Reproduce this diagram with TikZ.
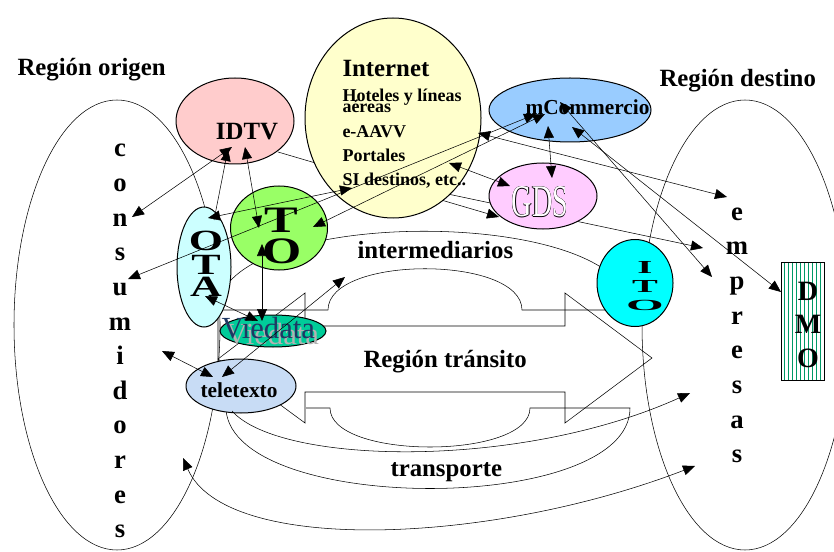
\documentclass[tikz,border=0pt]{standalone}
\usepackage{fontspec}
\setmainfont{Liberation Serif}
\usepackage{graphicx}
\usetikzlibrary{arrows.meta,shapes.geometric,patterns,calc}
\definecolor{idtvpink}{RGB}{255,204,204}
\definecolor{netyellow}{RGB}{255,255,204}
\definecolor{mcomblue}{RGB}{153,204,255}
\definecolor{gdspink}{RGB}{255,204,255}
\definecolor{togreen}{RGB}{153,255,102}
\definecolor{otacyan}{RGB}{204,255,255}
\definecolor{itocyan}{RGB}{0,255,255}
\definecolor{viedgreen}{RGB}{0,204,153}
\definecolor{viednavy}{RGB}{31,56,100}
\definecolor{teleblue}{RGB}{200,220,245}
\definecolor{dmogreen}{RGB}{0,153,102}
\pgfdeclarelayer{back}
\pgfsetlayers{back,main}
\newcommand{\hollow}[1]{{\color{black}\rlap{\kern-0.5pt#1}\rlap{\kern0.5pt#1}\rlap{\raisebox{0.5pt}{#1}}\rlap{\raisebox{-0.5pt}{#1}}}{\color{white}#1}}
\newcommand{\shadowed}[1]{\rlap{\kern3pt\raisebox{-5pt}{\color{black!30}#1}}{\color{viednavy}#1}}
\tikzset{
	blob/.style={ellipse,draw,inner sep=0pt,outer sep=0pt},
	region/.style={font=\bfseries\fontsize{18.6}{22}\selectfont,anchor=base west,inner sep=0pt},
	netline/.style={font=\bfseries\fontsize{13.5}{15}\selectfont,anchor=base west,inner sep=0pt},
	vlet/.style={font=\bfseries\fontsize{20}{24}\selectfont,anchor=base,inner sep=0pt},
	biglet/.style={inner sep=0pt},
	-tri/.style={-{Triangle[length=9pt,width=7.5pt]}},
	tritri/.style={{Triangle[length=9pt,width=7.5pt]}-{Triangle[length=9pt,width=7.5pt]}}
}

\begin{document}
\begin{tikzpicture}[x=0.75pt,y=-0.75pt,line width=0.75pt]
			\useasboundingbox (0,0) rectangle (834,552);

			\node[blob,fill=netyellow,minimum width=132pt,minimum height=150pt] (internet) at (393,118) {};
			\node[blob,fill=idtvpink,minimum width=88.5pt,minimum height=64.5pt] (idtv) at (235,121) {};
			\node[blob,fill=mcomblue,minimum width=121.5pt,minimum height=48pt] (mcom) at (570,110) {};
			\node[blob,fill=gdspink,minimum width=81pt,minimum height=49.5pt] (gds) at (543,196) {};
			\node[blob,fill=togreen,minimum width=72.75pt,minimum height=63pt] (to) at (279,228) {};
			\node[blob,fill=otacyan,minimum width=40.5pt,minimum height=90pt] (ota) at (204,267) {};
			\node[blob,fill=itocyan,minimum width=57pt,minimum height=65.25pt] (ito) at (635,283) {};
			\node[blob,fill=viedgreen,minimum width=79.5pt,minimum height=24pt] (vied) at (273,331) {};
			\node[blob,fill=teleblue,minimum width=82.5pt,minimum height=40.5pt] (tele) at (241,386) {};
			\node[draw,rectangle,pattern=vertical lines,pattern color=dmogreen,inner sep=0pt,outer sep=0pt,minimum width=32.25pt,minimum height=88.5pt] (dmo) at (802.5,321) {};

			\node[region] (rego) at (17,76) {Región origen};
			\node[region] (regd) at (659,87) {Región destino};
			\node[region] (nett) at (342,77) {Internet};
			\node[netline] (net1) at (342,102) {Hoteles y líneas};
			\node[netline] (net2) at (342,113) {aéreas};
			\node[netline] (net3) at (342,138) {e-AAVV};
			\node[netline] (net4) at (342,162) {Portales};
			\node[netline] (net5) at (342,186) {SI destinos, etc..};
			\node[region,anchor=base] (idtvt) at (247,140) {IDTV};
			\node[region,font=\bfseries\fontsize{16}{18}\selectfont] (mcomt) at (525,115) {mCommercio};
			\node[biglet,anchor=base,font=\fontsize{34}{36}\selectfont] (gdst) at (540,217) {\scalebox{0.62}[1]{\hollow{GDS}}};
			\node[region] (intert) at (357,258) {intermediarios};
			\node[region] (transt) at (363,367) {Región tránsito};
			\node[region] (transpt) at (390,476) {transporte};
			\node[region,font=\bfseries\fontsize{16}{18}\selectfont] (telet) at (200,397) {teletexto};
			\node[biglet,anchor=base west,font=\fontsize{23}{25}\selectfont] (viedt) at (221,338) {\shadowed{Viedata}};
			\node[biglet,font=\bfseries\fontsize{28}{30}\selectfont] (toT) at (281,220.5) {\scalebox{1.35}[1]{T}};
			\node[biglet,font=\bfseries\fontsize{28}{30}\selectfont] (toO) at (282.5,251.5) {\scalebox{1.35}[1]{O}};
			\foreach \l/\yy in {O/241,T/265,A/287}
				\node[biglet,font=\bfseries\fontsize{22}{24}\selectfont] (ota\l) at (206,\yy) {\scalebox{1.5}[1]{\l}};
			\node[biglet,font=\bfseries\fontsize{14.5}{16}\selectfont] (itoI) at (645,267.5) {\scalebox{2}[0.95]{I}};
			\node[biglet,font=\bfseries\fontsize{14.5}{16}\selectfont] (itoT) at (645,286) {\scalebox{2}[0.95]{T}};
			\node[biglet,font=\bfseries\fontsize{14.5}{16}\selectfont] (itoO) at (645,305) {\scalebox{2.5}[0.8]{O}};
			\foreach \l [count=\i from 0] in {D,M,O}
				\node[vlet,font=\bfseries\fontsize{21}{24}\selectfont] (dl\i) at (808,300+33.5*\i) {\l};
			\foreach \l [count=\i from 0] in {c,o,n,s,u,m,i,d,o,r,e,s}
				\node[vlet] (cl\i) at (120,157+34.6*\i) {\l};
			\foreach \l [count=\i from 0] in {e,m,p,r,e,s,a,s}
				\node[vlet] (el\i) at (737,220+34.7*\i) {\l};

			\coordinate (c-n) at (132,217);
			\coordinate (c-u) at (128,279);
			\coordinate (c-i) at (162,351);
			\coordinate (c-r) at (183,458);
			\coordinate (e-e) at (727,197);
			\coordinate (e-m) at (703,248);
			\coordinate (e-p) at (712,277);
			\coordinate (e-s) at (690,393);
			\coordinate (e-s2) at (695,466);
			\coordinate (intertip) at (345,277);

			\begin{pgfonlayer}{back}
				\node[blob,minimum width=154.5pt,minimum height=337.5pt] (consum) at (117,325) {};
				\node[blob,minimum width=154.5pt,minimum height=337.5pt] (empres) at (745,325) {};
				\draw (218,362) -- (218,310) .. controls (218,205) and (630,205) .. (630,310) -- (522,310) .. controls (522,255) and (328,255) .. (328,310) -- (218,310);
				\draw (306,408) -- (330,408) .. controls (330,460) and (530,460) .. (530,408) -- (630,408) .. controls (630,515) and (235,515) .. (226,410);
				\draw (218,359) -- (305,293) -- (305,326) -- (565,326) -- (565,293) -- (652,358) -- (565,423) -- (565,392) -- (305,392) -- (305,423) -- cycle;
				\draw[-tri] ($(idtv)+(43,31)$) -- ($(gds)+(-44,21)$);
				\draw[-tri] ($(internet)+(50,75)$) -- (e-m);
			\end{pgfonlayer}

			\draw[tritri] ($(idtv)+(-3,26)$) -- (c-n);
			\draw[-tri] ($(ota)+(10,-47)$) -- ($(idtv)+(-7,28)$);
			\draw[tritri] ($(idtv)+(10,26)$) -- ($(to)+(-20,0)$);
			\draw[tritri] ($(internet)+(85,15)$) -- (e-e);
			\draw[tritri] ($(internet)+(56,45)$) -- ($(gds)+(-33,-10)$);
			\draw[tritri] ($(mcom)+(-22,16)$) -- ($(gds)+(9,-18)$);
			\draw[tritri] ($(mcom)+(-10,-8)$) -- (e-p);
			\draw[tritri] ($(mcom)+(2,17)$) -- ($(dmo.north west)+(0,30)$);
			\draw[tritri] (c-u) -- ($(mcom)+(-34,4)$);
			\draw[tritri] ($(to)+(34,-1)$) -- ($(mcom)+(-25,4)$);
			\draw[tritri] ($(ota)+(4,-49)$) -- ($(internet)+(-41,70)$);
			\draw[tritri] ($(to)+(-17,16)$) -- ($(vied)+(-11,-10)$);
			\draw[tritri] ($(ota)+(1,29)$) -- ($(vied)+(-15,-10)$);
			\draw[tritri] ($(tele)+(-28,-9)$) -- (c-i);
			\draw[tritri] ($(tele)+(-19,-9)$) -- (intertip);
			\draw[-tri] ($(tele)+(-9,25)$) .. controls (280,465) and (520,470) .. (e-s);
			\draw[tritri] (c-r) .. controls (225,555) and (490,545) .. (e-s2);
\end{tikzpicture}
\end{document}
